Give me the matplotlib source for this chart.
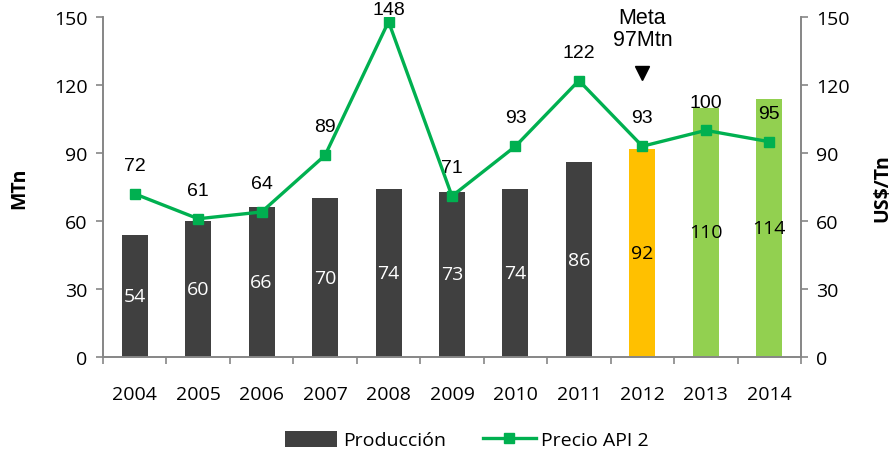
import matplotlib.pyplot as plt
from matplotlib.patches import Patch
from matplotlib.lines import Line2D

years = ["2004", "2005", "2006", "2007", "2008", "2009", "2010", "2011", "2012", "2013", "2014"]
produccion = [54, 60, 66, 70, 74, 73, 74, 86, 92, 110, 114]
precio = [72, 61, 64, 89, 148, 71, 93, 122, 93, 100, 95]
bar_colors = ["#404040"] * 8 + ["#FFC000", "#92D050", "#92D050"]
label_colors = ["white"] * 8 + ["black", "black", "black"]

meta_year = 8
meta_text = "Meta\n97Mtn"

LINE_COLOR = "#00B050"
AXIS_COLOR = "#868686"
TICK_FONT = "Open Sans"
LABEL_FONT = "Liberation Sans"


def main():
    fig = plt.figure(figsize=(8.93, 4.52), dpi=100)
    ax = fig.add_axes([0.1153, 0.208, 0.7817, 0.752])
    ax2 = ax.twinx()

    x = list(range(len(years)))
    ax.bar(x, produccion, width=0.41, color=bar_colors, zorder=2)
    for xi, v, c in zip(x, produccion, label_colors):
        ax.text(xi, v / 2, str(v), ha="center", va="center",
                color=c, fontsize=14, family=TICK_FONT, zorder=3)

    ax2.plot(x, precio, color=LINE_COLOR, linewidth=2.4,
             marker="s", markersize=6.5, zorder=4)
    for xi, v in zip(x, precio):
        ax2.text(xi, min(v + 12.5, 153.5), str(v), ha="center", va="center",
                 fontsize=14, family=LABEL_FONT, color="black",
                 clip_on=False)

    # meta annotation
    ax2.plot([meta_year], [125.5], marker="v", color="black",
             markersize=10, clip_on=False, zorder=5)
    ax2.text(meta_year, 145, meta_text, ha="center", va="center",
             fontsize=15.5, family=LABEL_FONT, linespacing=1.1,
             clip_on=False)

    for a in (ax, ax2):
        a.set_ylim(0, 150)
        a.set_yticks(range(0, 151, 30))
        a.spines["top"].set_visible(False)
        for s in ("left", "right", "bottom"):
            a.spines[s].set_color(AXIS_COLOR)
            a.spines[s].set_linewidth(1.2)
        a.tick_params(axis="y", colors=AXIS_COLOR, length=5, width=1.2,
                      labelsize=14, labelcolor="black", pad=6)
        for t in a.get_yticklabels():
            t.set_family(TICK_FONT)

    ax.set_xlim(-0.5, len(years) - 0.5)
    ax.set_xticks(x)
    ax.set_xticklabels(years, fontsize=14, family=TICK_FONT)
    ax.set_xticks([i - 0.5 for i in range(len(years) + 1)], minor=True)
    ax.tick_params(axis="x", which="major", length=0, pad=20)
    ax.tick_params(axis="x", which="minor", length=5, width=1.2,
                   color=AXIS_COLOR)

    ax.set_ylabel("MTn", fontsize=14, fontweight="bold", family=TICK_FONT,
                  labelpad=18)
    ax2.set_ylabel("US$/Tn", fontsize=14, fontweight="bold", family=TICK_FONT,
                   labelpad=16)

    handles = [
        Patch(facecolor="#404040", label="Producción"),
        Line2D([0], [0], color=LINE_COLOR, linewidth=2.4, marker="s",
               markersize=6.5, label="Precio API 2"),
    ]
    fig.legend(handles=handles, loc="lower center", ncol=2, frameon=False,
               bbox_to_anchor=(0.523, -0.035), prop={"family": TICK_FONT, "size": 14},
               handlelength=2.7, handleheight=0.9, columnspacing=1.9,
               handletextpad=0.3)

    fig.savefig("out.png", dpi=100)
    plt.close(fig)


if __name__ == "__main__":
    main()
